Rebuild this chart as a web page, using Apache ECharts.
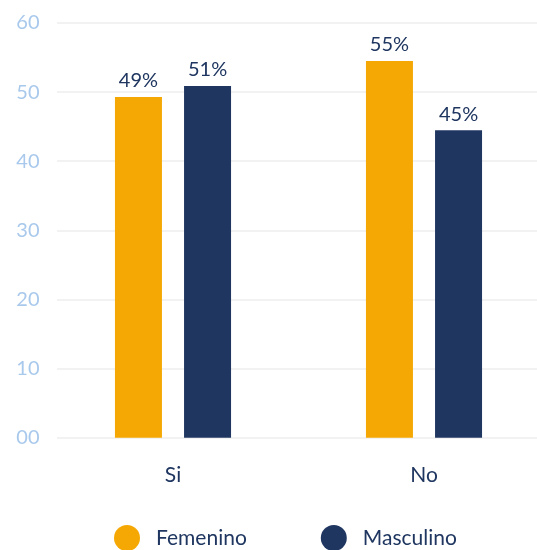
<!DOCTYPE html>
<html>
<head>
<meta charset="utf-8">
<script src="https://cdn.jsdelivr.net/npm/echarts@6/dist/echarts.min.js"></script>
<style>
  html, body { margin: 0; padding: 0; background: #fff; }
  #chart { width: 537px; height: 550px; }
</style>
</head>
<body>
<div id="chart"></div>
<script>
var categories = ['Si', 'No'];
var femenino = [49.3, 54.5];
var masculino = [50.9, 44.5];
var yTicks = [0, 10, 20, 30, 40, 50, 60];

var FONT = 'Lato';
var NAVY = '#1f3660';
var ORANGE = '#f5a803';

var myChart = echarts.init(document.getElementById('chart'));

var yMin = yTicks[0];
var yMax = yTicks[yTicks.length - 1];

myChart.setOption({
  textStyle: { fontFamily: FONT },
  animation: false,
  grid: [{
    // bars + labels
    left: 47.5,
    right: -12.5,
    top: 23,
    bottom: 112.3,
    outerBoundsMode: 'none',
    containLabel: false
  }, {
    // background grid lines only
    left: 57,
    right: 0,
    top: 23,
    bottom: 112.3,
    outerBoundsMode: 'none',
    containLabel: false
  }],
  legend: {
    left: 114,
    top: 525,
    padding: 0,
    icon: 'circle',
    itemWidth: 26,
    itemHeight: 26,
    itemGap: 74,
    textStyle: {
      color: NAVY,
      fontSize: 21,
      fontFamily: FONT,
      padding: [0, 0, 0, 11]
    },
    data: ['Femenino', 'Masculino']
  },
  xAxis: [{
    type: 'category',
    gridIndex: 0,
    data: categories,
    axisLine: { show: false },
    axisTick: { show: false },
    axisLabel: {
      color: NAVY,
      fontSize: 21,
      margin: 27
    }
  }, {
    type: 'category',
    gridIndex: 1,
    data: categories,
    show: false
  }],
  yAxis: [{
    type: 'value',
    gridIndex: 0,
    min: yMin,
    max: yMax,
    interval: 10,
    z: 3,
    axisLine: { show: false },
    axisTick: { show: false },
    axisLabel: {
      color: '#a9c9ec',
      fontSize: 20,
      margin: 8,
      formatter: function (v) {
        return v < 10 ? '0' + v : String(v);
      }
    },
    splitLine: { show: false }
  }, {
    type: 'value',
    gridIndex: 1,
    min: yMin,
    max: yMax,
    interval: 10,
    axisLine: { show: false },
    axisTick: { show: false },
    axisLabel: { show: false },
    splitLine: {
      lineStyle: { color: '#f2f2f2', width: 2 }
    }
  }],
  series: [{
    name: 'Femenino',
    type: 'bar',
    barWidth: 47,
    barGap: '47%',
    itemStyle: { color: ORANGE },
    label: {
      show: true,
      position: 'top',
      distance: 6,
      color: NAVY,
      fontSize: 20,
      formatter: function (p) { return Math.round(p.value) + '%'; }
    },
    data: femenino
  }, {
    name: 'Masculino',
    type: 'bar',
    barWidth: 47,
    barGap: '47%',
    itemStyle: { color: NAVY },
    label: {
      show: true,
      position: 'top',
      distance: 6,
      color: NAVY,
      fontSize: 20,
      formatter: function (p) { return Math.round(p.value) + '%'; }
    },
    data: masculino
  }]
});
</script>
</body>
</html>
